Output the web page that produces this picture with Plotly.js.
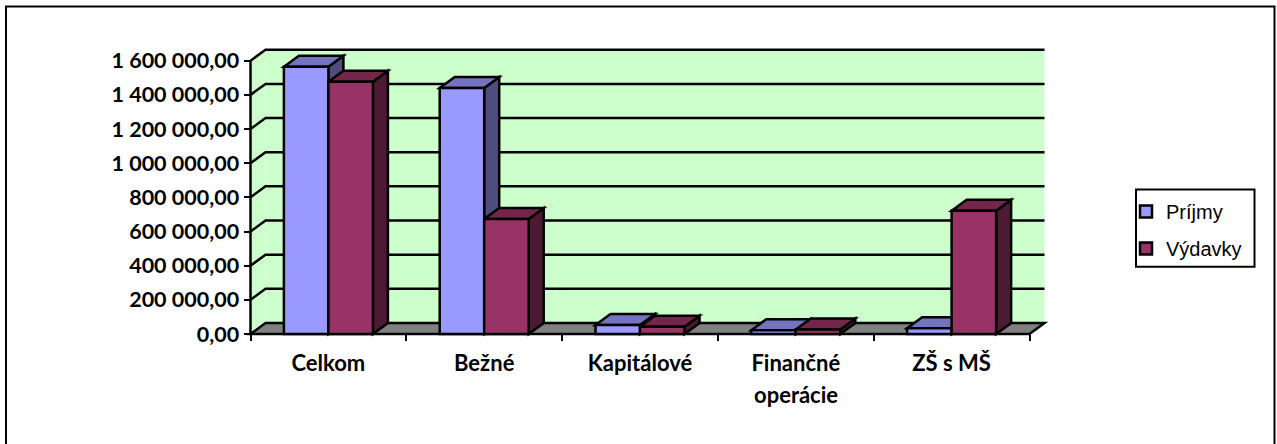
<!DOCTYPE html>
<html>
<head>
<meta charset="utf-8">
<script src="https://cdn.plot.ly/plotly-3.0.0.min.js"></script>
<style>html,body{margin:0;padding:0;background:#fff}</style>
</head>
<body>
<div id="chart" style="width:1277px;height:444px"></div>
<script>
const categories = ['Celkom', 'Bežné', 'Kapitálové', 'Finančné', 'ZŠ s MŠ'];
const secondLines = ['', '', '', 'operácie', ''];
const prijmy = [1565000, 1440000, 53000, 22000, 33000];
const vydavky = [1477000, 673000, 43000, 27000, 722000];
const yTicks = [0, 200000, 400000, 600000, 800000, 1000000, 1200000, 1400000, 1600000];
const yTickText = ['0,00', '200 000,00', '400 000,00', '600 000,00', '800 000,00', '1 000 000,00', '1 200 000,00', '1 400 000,00', '1 600 000,00'];

const W = 1277, H = 444;
const x0Px = 250.5, y0Px = 334, pxPerCat = 155.8, pxPerUnit = 170.8 / 1e6;
const dx = 15 / pxPerCat, dy = 11 / pxPerUnit;
const n = categories.length;
const barW = (1 - 0.4286) / 2;
const LINE = {color: '#000', width: 2.5};

const centers = categories.map((_, i) => i + 0.5);
const path = pts => 'M' + pts.map(p => p[0] + ',' + p[1]).join(' L') + ' Z';
const openPath = pts => 'M' + pts.map(p => p[0] + ',' + p[1]).join(' L');
const base = {type: 'path', xref: 'x', yref: 'y', layer: 'below'};
const shapes = [];
const yMax = yTicks[yTicks.length - 1];

// walls
shapes.push({...base, path: path([[dx, dy], [n + dx, dy], [n + dx, yMax + dy], [dx, yMax + dy]]), fillcolor: '#CCFFCC', line: {width: 0}});
shapes.push({...base, path: path([[0, 0], [dx, dy], [dx, yMax + dy], [0, yMax]]), fillcolor: '#CCFFCC', line: {width: 0}});
shapes.push({...base, path: path([[0, 0], [dx, dy], [n + dx, dy], [n, 0]]), fillcolor: '#808080', line: LINE});
// grid lines
yTicks.forEach(v => {
  if (v > 0) shapes.push({...base, path: openPath([[0, v], [dx, v + dy], [n + dx, v + dy]]), line: LINE});
});
// axis line
shapes.push({...base, path: openPath([[0, 0], [0, yMax]]), line: LINE});

// bar side and top faces
function faces(vals, off, cSide, cTop) {
  vals.forEach((v, i) => {
    const l = i + 0.5 + off * barW, r = l + barW;
    shapes.push({...base, path: path([[r, 0], [r + dx, dy], [r + dx, v + dy], [r, v]]), fillcolor: cSide, line: LINE});
    shapes.push({...base, path: path([[l, v], [l + dx, v + dy], [r + dx, v + dy], [r, v]]), fillcolor: cTop, line: LINE});
  });
}
faces(prijmy, -1, '#4D4D80', '#7373BF');
faces(vydavky, 0, '#4D1A33', '#732649');

// outer frame (open at the bottom) and legend frame
shapes.push({type: 'path', xref: 'paper', yref: 'paper',
  path: `M${6 / W},0 L${6 / W},${1 - 6.5 / H} L${1274.5 / W},${1 - 6.5 / H} L${1274.5 / W},0`,
  line: {color: '#000', width: 2}, layer: 'above'});
shapes.push({type: 'rect', xref: 'paper', yref: 'paper', x0: 1136 / W, x1: 1254.5 / W, y0: 1 - 266.7 / H, y1: 1 - 189.5 / H, line: {color: '#000', width: 2}, layer: 'above'});

const yFont = {family: 'Lato, sans-serif', size: 21.5, color: '#000', weight: 700};
const xFont = {family: 'Lato, sans-serif', size: 22, color: '#000', weight: 700};
const annotations = secondLines.map((t, i) => ({
  text: t, x: centers[i], xref: 'x', y: 1 - 394 / H, yref: 'paper', showarrow: false,
  xanchor: 'center', yanchor: 'middle', font: xFont
})).filter(a => a.text);

const traces = [
  {type: 'bar', name: 'Príjmy', x: centers, y: prijmy, legendgroup: 'a',
   marker: {color: '#9999FF', line: {color: '#000', width: 2.5}}},
  {type: 'bar', name: 'Výdavky', x: centers, y: vydavky, legendgroup: 'b',
   marker: {color: '#993366', line: {color: '#000', width: 2.5}}}
];

const layout = {
  width: W, height: H,
  margin: {l: 0, r: 0, t: 0, b: 0},
  paper_bgcolor: '#fff', plot_bgcolor: 'rgba(0,0,0,0)',
  barmode: 'group', bargap: 0.4286, bargroupgap: 0,
  xaxis: {
    domain: [0, 1], range: [-x0Px / pxPerCat, (W - x0Px) / pxPerCat],
    anchor: 'free', position: 1 - y0Px / H,
    tickmode: 'array', tickvals: centers, ticktext: categories, ticks: '',
    tickfont: xFont, ticklabelstandoff: 14, tickangle: 0,
    showgrid: false, zeroline: false, showline: false,
    minor: {tickmode: 'array', tickvals: [0, 1, 2, 3, 4, 5], ticks: 'outside', ticklen: 6, tickwidth: 2, tickcolor: '#000', showgrid: false}
  },
  yaxis: {
    domain: [0, 1], range: [-(H - y0Px) / pxPerUnit, y0Px / pxPerUnit],
    anchor: 'free', position: x0Px / W,
    tickmode: 'array', tickvals: yTicks, ticktext: yTickText,
    ticks: 'outside', ticklen: 7, tickwidth: 2, tickcolor: '#000',
    tickfont: yFont, showgrid: false, zeroline: false, showline: false
  },
  shapes, annotations,
  showlegend: true,
  legend: {
    x: 1126 / W, y: 1 - 192 / H, xanchor: 'left', yanchor: 'top',
    bgcolor: 'rgba(0,0,0,0)', borderwidth: 0, traceorder: 'grouped', tracegroupgap: 8,
    font: {family: '"Liberation Sans", Arial, sans-serif', size: 20, color: '#000'}
  }
};
Plotly.newPlot('chart', traces, layout, {displayModeBar: false, staticPlot: true});
</script>
</body>
</html>
